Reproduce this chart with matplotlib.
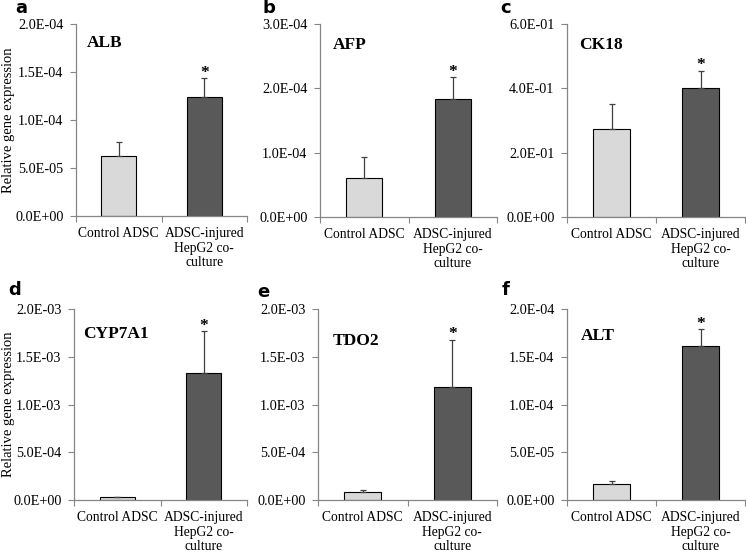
import numpy as np
import matplotlib.pyplot as plt

# data
groups = ["Control ADSC", "ADSC-injured\nHepG2 co-\nculture"]
genes = ["ALB", "AFP", "CK18", "CYP7A1", "TDO2", "ALT"]
letters = ["a", "b", "c", "d", "e", "f"]
means = [
    [6.2e-5, 1.24e-4],
    [6.1e-5, 1.84e-4],
    [0.275, 0.40],
    [3.0e-5, 1.33e-3],
    [8.0e-5, 1.18e-3],
    [1.7e-5, 1.61e-4],
]
errs = [
    [1.5e-5, 2.0e-5],
    [3.2e-5, 3.4e-5],
    [0.075, 0.055],
    [0.0, 4.4e-4],
    [2.0e-5, 5.0e-4],
    [2.5e-6, 1.8e-5],
]
ymax = [2e-4, 3e-4, 0.6, 2e-3, 2e-3, 2e-4]
ysteps = [5e-5, 1e-4, 2e-1, 5e-4, 5e-4, 5e-5]
title_pos = [(0.065, 0.90), (0.07, 0.89), (0.07, 0.89), (0.05, 0.87), (0.08, 0.83), (0.08, 0.86)]

W, H = 746, 552
# axes boxes in pixels: left, top, right, bottom
boxes = [
    (76, 24, 247, 216),
    (320, 24, 497, 217),
    (567, 24, 745, 217),
    (74, 309, 247, 500),
    (318, 309, 497, 500),
    (567, 309, 745, 500),
]
letter_pos = [(15, 8), (262, 8), (500, 8), (8, 290), (257, 292), (502, 290)]

plt.rcParams['font.family'] = ['Liberation Serif', 'DejaVu Serif']
fig = plt.figure(figsize=(W / 100, H / 100), dpi=100)

axis_col = "#868686"
colors = ["#d9d9d9", "#595959"]

for i, (l, t, r, b) in enumerate(boxes):
    ax = fig.add_axes([l / W, 1 - b / H, (r - l) / W, (b - t) / H])
    x = np.arange(2)
    ax.bar(x, means[i], width=0.41, color=colors, edgecolor="black", linewidth=0.8, zorder=2)
    ax.errorbar(x, means[i], yerr=[np.zeros(2), errs[i]], fmt="none",
                ecolor="#404040", elinewidth=0.9, capsize=2.4, capthick=0.9, zorder=3)
    top = means[i][1] + errs[i][1]
    ax.annotate("*", (1, top), xytext=(0, -2), textcoords="offset points",
                ha="center", va="bottom", fontsize=12.5, fontweight="bold")
    ax.set_xlim(-0.5, 1.5)
    ax.set_ylim(0, ymax[i])
    yt = np.arange(0, ymax[i] + ysteps[i] / 2, ysteps[i])
    ax.set_yticks(yt)
    ax.set_yticklabels(["{:.1E}".format(v) for v in yt], fontsize=10.3)
    ax.set_xticks([-0.5, 0.5, 1.5])
    ax.set_xticklabels([])
    ax.set_xticks(x, minor=True)
    ax.set_xticklabels(groups, minor=True, fontsize=9.8, linespacing=1.15, va="top")
    ax.tick_params(axis="x", which="minor", length=0, pad=8)
    ax.tick_params(axis="x", which="major", length=4, color=axis_col)
    ax.tick_params(axis="y", length=4, color=axis_col, pad=5)
    for s in ["top", "right"]:
        ax.spines[s].set_visible(False)
    for s in ["left", "bottom"]:
        ax.spines[s].set_color(axis_col)
        ax.spines[s].set_linewidth(0.9)
    ax.text(title_pos[i][0], title_pos[i][1], genes[i], transform=ax.transAxes,
            fontsize=12.5, fontweight="bold", va="center")
    fig.text(letter_pos[i][0] / W, 1 - letter_pos[i][1] / H, letters[i], fontsize=13,
             fontweight="bold", family="DejaVu Sans", va="center")
    if i in (0, 3):
        ax.set_ylabel("Relative gene expression", fontsize=10.5)
        ax.yaxis.set_label_coords((15 - l) / (r - l), 0.5)

fig.savefig("out.png", dpi=100)
